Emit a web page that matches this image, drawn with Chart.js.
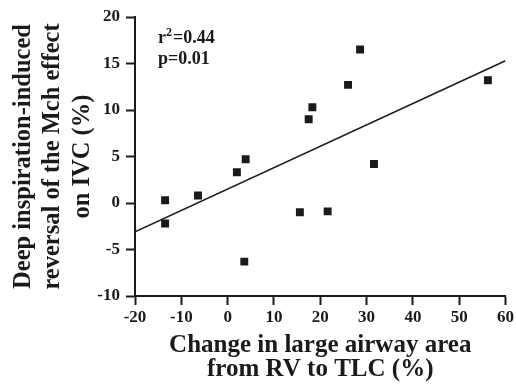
<!DOCTYPE html>
<html>
<head>
<meta charset="utf-8">
<script src="https://cdn.jsdelivr.net/npm/chart.js@4.4.0/dist/chart.umd.min.js"></script>
<style>
  body { margin: 0; background: #fff; }
  canvas { display: block; }
</style>
</head>
<body>
<canvas id="myChart" width="516" height="384"></canvas>
<script>
// change in large airway area (%) vs DI reversal of Mch effect (%)
const airwayChange = [-13.5, -13.5, -6.4, 2.0, 3.9, 3.6, 15.6, 17.5, 18.3, 21.6, 26.0, 28.6, 31.6, 56.2];
const reversal = [0.3, -2.2, 0.8, 3.3, 4.7, -6.3, -1.0, 9.0, 10.3, -0.9, 12.7, 16.5, 4.2, 13.2];

// fitted line, read at the ends of the x axis
const fitX = [-20, 60];
const fitY = [-3.1, 15.3];

const xTicks = [-20, -10, 0, 10, 20, 30, 40, 50, 60];
const yTicks = [-10, -5, 0, 5, 10, 15, 20];

const statLines = [["r", "2", "=0.44"], ["p", "", "=0.01"]];

const serif = "'Liberation Serif', 'Times New Roman', serif";
const ink = "#1a1a1a";

const statsText = {
    id: "statsText",
    afterDraw(chart) {
        const ctx = chart.ctx;
        const left = chart.chartArea.left + 23;
        ctx.save();
        ctx.fillStyle = ink;
        ctx.textBaseline = "alphabetic";
        statLines.forEach(function (parts, i) {
            const y = 43 + i * 21;
            let x = left;
            ctx.font = "bold 18px " + serif;
            ctx.fillText(parts[0], x, y);
            x += ctx.measureText(parts[0]).width;
            if (parts[1]) {
                ctx.font = "bold 12px " + serif;
                ctx.fillText(parts[1], x, y - 7);
                x += ctx.measureText(parts[1]).width + 1;
            }
            ctx.font = "bold 18px " + serif;
            ctx.fillText(parts[2], x, y);
        });
        ctx.restore();
    }
};

new Chart("myChart", {
    type: "scatter",
    data: {
        datasets: [{
            data: airwayChange.map((x, i) => ({ x: x, y: reversal[i] })),
            pointStyle: "rect",
            pointRadius: 5.6,
            pointHoverRadius: 5.6,
            backgroundColor: ink,
            borderColor: ink,
            borderWidth: 0
        }, {
            type: "line",
            data: fitX.map((x, i) => ({ x: x, y: fitY[i] })),
            borderColor: ink,
            borderWidth: 1.5,
            pointRadius: 0,
            fill: false
        }]
    },
    options: {
        responsive: false,
        animation: false,
        layout: { padding: { top: 17, right: 9, left: 0, bottom: 0 } },
        plugins: {
            legend: { display: false },
            tooltip: { enabled: false }
        },
        scales: {
            x: {
                type: "linear",
                min: -20,
                max: 60,
                afterBuildTicks: s => { s.ticks = xTicks.map(v => ({ value: v })); },
                afterFit: s => { s.height = 88; },
                border: { color: ink, width: 2 },
                grid: { drawOnChartArea: false, drawTicks: true, tickLength: 9, tickWidth: 2, color: ink },
                ticks: { color: ink, font: { family: serif, size: 17, weight: "bold" }, padding: 2, maxRotation: 0 },
                title: {
                    display: true,
                    text: ["Change in large airway area", "from RV to TLC (%)"],
                    color: ink,
                    font: { family: serif, size: 25, weight: "bold", lineHeight: 0.98 },
                    padding: { top: 0, bottom: 2 }
                }
            },
            y: {
                type: "linear",
                min: -10,
                max: 20,
                afterBuildTicks: s => { s.ticks = yTicks.map(v => ({ value: v })); },
                afterFit: s => { s.width = 135; },
                border: { color: ink, width: 2 },
                grid: { drawOnChartArea: false, drawTicks: true, tickLength: 9, tickWidth: 2, color: ink },
                ticks: { color: ink, font: { family: serif, size: 17, weight: "bold" }, padding: 6 },
                title: {
                    display: true,
                    text: ["Deep inspiration-induced", "reversal of the Mch effect", "on IVC (%)"],
                    color: ink,
                    font: { family: serif, size: 24.5, weight: "bold", lineHeight: 1.2 },
                    padding: { top: 9, bottom: 0 }
                }
            }
        }
    },
    plugins: [statsText]
});
</script>
</body>
</html>
